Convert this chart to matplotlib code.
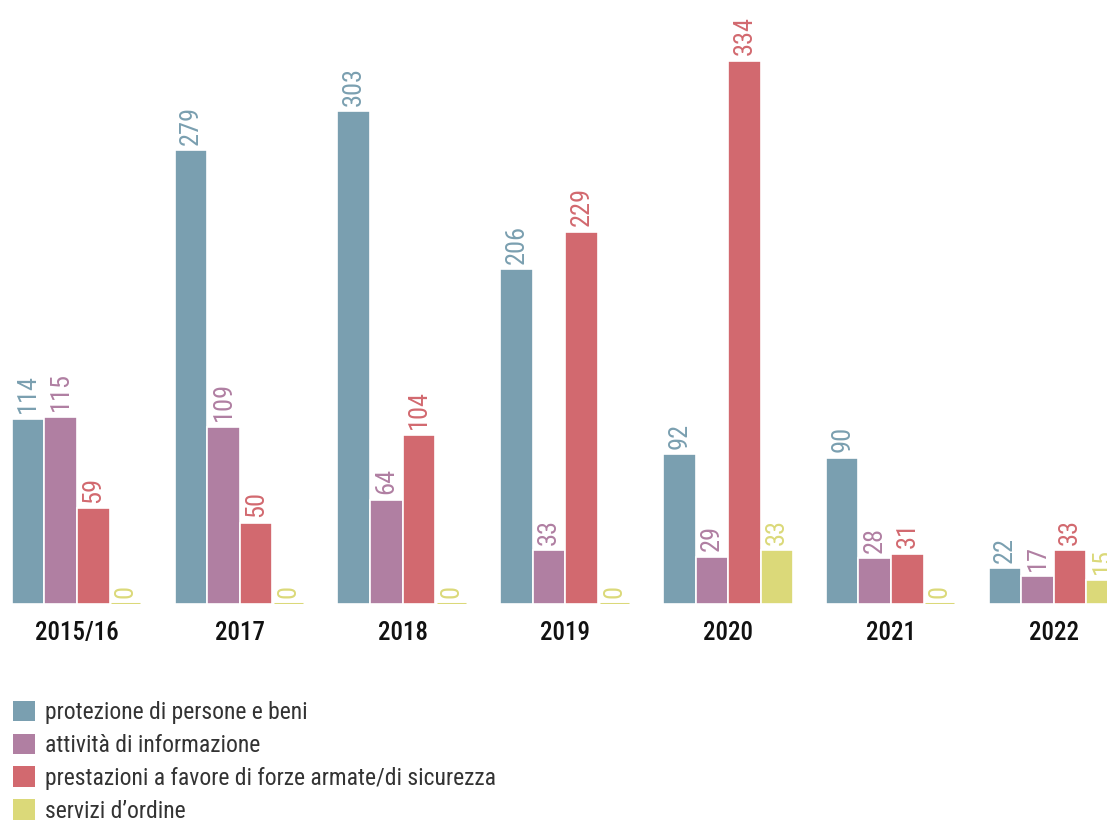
import matplotlib
matplotlib.use("Agg")
import matplotlib.pyplot as plt
from matplotlib import font_manager
from matplotlib.patches import Patch
import numpy as np

years = ["2015/16", "2017", "2018", "2019", "2020", "2021", "2022"]
series_names = [
    "protezione di persone e beni",
    "attività di informazione",
    "prestazioni a favore di forze armate/di sicurezza",
    "servizi d\u2019ordine",
]
protezione = [114, 279, 303, 206, 92, 90, 22]
informazione = [115, 109, 64, 33, 29, 28, 17]
prestazioni = [59, 50, 104, 229, 334, 31, 33]
servizi = [0, 0, 0, 0, 33, 0, 15]
colors = ["#7a9fb0", "#b07fa2", "#d2696f", "#dbd979"]

names = {f.name for f in font_manager.fontManager.ttflist}
font = "Roboto"
for cand in ["Roboto Condensed", "Liberation Sans Narrow", "Roboto"]:
    if cand in names:
        font = cand
        break
plt.rcParams["font.family"] = [font, "DejaVu Sans"]

W, H = 1107, 825
fig = plt.figure(figsize=(W / 100, H / 100), dpi=100)
base_px = 604
ax = fig.add_axes([0, 1 - base_px / H, 1, base_px / H])
px_per_unit = (604 - 61) / 334
ax.set_ylim(0, base_px / px_per_unit)
grp = 162.8
c0 = 77
ax.set_xlim(-c0 / grp, (W - c0) / grp)

x = np.arange(len(years))
bw = 0.2
all_series = [protezione, informazione, prestazioni, servizi]
for k, (vals, col) in enumerate(zip(all_series, colors)):
    pos = x + (k - 1.5) * bw
    ax.bar(pos, vals, width=bw, color=col, edgecolor="white", linewidth=1.2, zorder=2)
    for p, v in zip(pos, vals):
        if v == 0:
            ax.hlines(0, p - bw / 2 + 0.01, p + bw / 2 - 0.01, color=col, lw=2.2, zorder=3)
        ax.annotate(str(v), (p, v), xytext=(0, 4), textcoords="offset points",
                    rotation=90, ha="center", va="bottom", color=col,
                    fontsize=19, annotation_clip=False)

ax.set_xticks(x)
ax.set_xticklabels(years, fontsize=18, fontweight="medium", color="#111111")
ax.tick_params(axis="x", length=0, pad=12)
ax.set_yticks([])
for s in ax.spines.values():
    s.set_visible(False)

handles = [Patch(facecolor=c, edgecolor="none") for c in colors]
fs = 17
fig.legend(handles, series_names, loc="upper left",
           bbox_to_anchor=(13 / W, 1 - 701 / H), bbox_transform=fig.transFigure,
           frameon=False, fontsize=fs, handlelength=0.95, handleheight=0.95,
           handletextpad=0.42, labelspacing=0.4, borderaxespad=0, borderpad=0,
           labelcolor="#333333")

fig.savefig("out.png", dpi=100)
